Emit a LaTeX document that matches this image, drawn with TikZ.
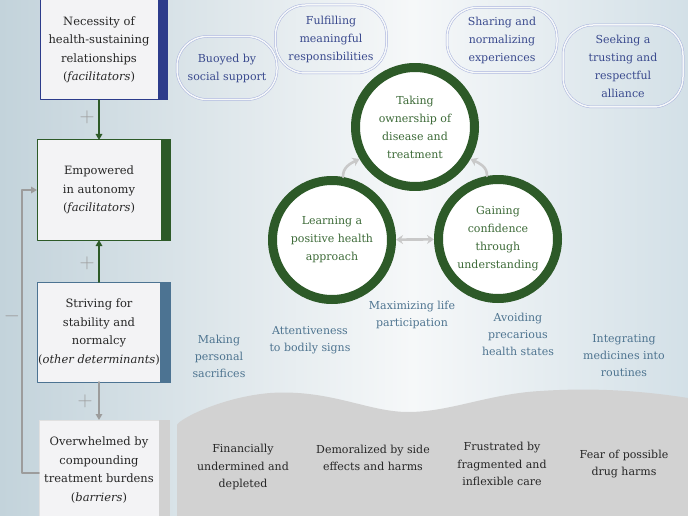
\documentclass[tikz,border=0pt]{standalone}
\usepackage{fontspec}
\setmainfont{DejaVu Serif}
\usepackage{xcolor}
\usetikzlibrary{arrows.meta,positioning}
\definecolor{bgL}{HTML}{C3D3DB}
\definecolor{bgM}{HTML}{F6F8F9}
\definecolor{bgR}{HTML}{D3E0E7}
\definecolor{navy}{HTML}{2C3B8B}
\definecolor{forest}{HTML}{2D5A28}
\definecolor{slate}{HTML}{4C7392}
\definecolor{boxfill}{HTML}{F3F3F5}
\definecolor{burdenfill}{HTML}{D2D2D2}
\definecolor{pillline}{HTML}{A8B2DD}
\definecolor{pilltext}{HTML}{3A4A8E}
\definecolor{notetext}{HTML}{4E7490}
\definecolor{ringtext}{HTML}{3C6A37}
\definecolor{cycgray}{HTML}{C9C9C9}
\definecolor{linkgray}{HTML}{9C9C9C}
\pgfdeclarehorizontalshading{backdrop}{100bp}{color(0bp)=(bgL); color(25bp)=(bgL); color(55bp)=(bgM); color(75bp)=(bgR); color(100bp)=(bgR)}
\tikzset{
  lbox/.style={draw=#1, line width=1pt, fill=boxfill, minimum height=100pt, inner sep=1pt, outer sep=0pt, align=center, text=black!85, font=\fontsize{11.5}{18.5}\selectfont},
  lbar/.style={fill=#1, minimum width=10pt, minimum height=101pt, inner sep=0pt, outer sep=0pt},
  link/.style={-{Triangle[length=6pt,width=6.5pt]}, line width=1.8pt},
  sign/.style={text=linkgray, font=\fontsize{20}{20}\selectfont},
  ring/.style={circle, draw=forest, line width=9pt, fill=white, minimum size=119pt, inner sep=0pt, align=center, text=ringtext, font=\fontsize{11}{18}\selectfont},
  pill/.style={rectangle, rounded corners=30pt, draw=pillline, double=bgM, double distance=1.5pt, line width=0.5pt, align=center, text=pilltext, font=\fontsize{11}{18}\selectfont},
  note/.style={align=center, text=notetext, font=\fontsize{11}{17}\selectfont},
  burden/.style={align=center, text=black!85, font=\fontsize{11}{17.5}\selectfont},
  cyc/.style={draw=cycgray, line width=2.6pt, -{Stealth[length=7pt,width=9pt]}},
  every picture/.style={line cap=round, line join=round}
}
\begin{document}
\begin{tikzpicture}[x=1pt,y=-1pt]
  \useasboundingbox (0,0) rectangle (688,516);
  \shade[shading=backdrop] (0,0) rectangle (688,516);
  \fill[burdenfill] (177,516) -- (177,425) .. controls (179,419) and (222,397) .. (270,393)
    .. controls (330,389) and (368,412) .. (408,412) .. controls (450,412) and (488,394) .. (540,391)
    .. controls (600,387) and (650,392) .. (688,398) -- (688,516) -- cycle;

  \node[lbox=navy, minimum width=118pt] (b1) at (99,50) {Necessity of\\health-sustaining\\relationships\\(\textit{facilitators})};
  \node[lbar=navy, right=-0.5pt of b1] (b1bar) {};
  \node[lbox=forest, minimum width=124pt] (b2) at (99,190) {Empowered\\in autonomy\\(\textit{facilitators})};
  \node[lbar=forest, right=-0.5pt of b2] (b2bar) {};
  \node[lbox=slate, minimum width=122pt] (b3) at (99,332) {Striving for\\stability and\\normalcy\\(\textit{other determinants})};
  \node[lbar=slate, minimum width=11pt, right=-0.5pt of b3] (b3bar) {};
  \node[lbox=black!12, minimum width=120pt] (b4) at (99,470) {Overwhelmed by\\compounding\\treatment burdens\\(\textit{barriers})};
  \node[lbar=black!18, minimum width=11pt, right=-0.5pt of b4] (b4bar) {};

  \draw[link, forest] (b1) -- (b2);
  \draw[link, forest] (b3) -- (b2);
  \draw[link, linkgray] (b3) -- (b4);
  \draw[link, linkgray] ([yshift=-3pt]b4.west) -- ++(-17,0) |- (b2.west);
  \node[sign] (s1) at (87,117) {$+$};
  \node[sign] (s2) at (87,263) {$+$};
  \node[sign] (s3) at (85,401) {$+$};
  \node[sign] (s4) at (12,316) {$-$};

  \node[ring] (rT) at (415,127) {Taking\\ownership of\\disease and\\treatment};
  \node[ring] (rL) at (332,240) {Learning a\\positive health\\approach};
  \node[ring] (rR) at (498,239) {Gaining\\confidence\\through\\understanding};
  \draw[cyc] (rL.80) to[out=95,in=205] (rT.210);
  \draw[cyc] (rR.100) to[out=85,in=-25] (rT.330);
  \draw[cyc, {Stealth[length=7pt,width=9pt]}-{Stealth[length=7pt,width=9pt]}] (rL) -- (rR);

  \node[pill, minimum width=100pt, minimum height=63pt] (pBuoy) at (227,68) {Buoyed by\\social support};
  \node[pill, minimum width=111pt, minimum height=68pt] (pFulfil) at (331,39) {Fulfilling\\meaningful\\responsibilities};
  \node[pill, minimum width=110pt, minimum height=65pt] (pShare) at (502,40) {Sharing and\\normalizing\\experiences};
  \node[pill, minimum width=120pt, minimum height=82pt] (pSeek) at (623,66) {Seeking a\\trusting and\\respectful\\alliance};

  \node[note] (nMax) at (412,315) {Maximizing life\\participation};
  \node[note] (nMake) at (219,356) {Making\\personal\\sacrifices};
  \node[note] (nAttn) at (310,340) {Attentiveness\\to bodily signs};
  \node[note] (nAvoid) at (518,334) {Avoiding\\precarious\\health states};
  \node[note] (nInteg) at (624,356) {Integrating\\medicines into\\routines};

  \node[burden] (fFin) at (243,467) {Financially\\undermined and\\depleted};
  \node[burden] (fDemo) at (373,458) {Demoralized by side\\effects and harms};
  \node[burden] (fFrus) at (502,464) {Frustrated by\\fragmented and\\inflexible care};
  \node[burden] (fFear) at (624,464) {Fear of possible\\drug harms};
\end{tikzpicture}
\end{document}
